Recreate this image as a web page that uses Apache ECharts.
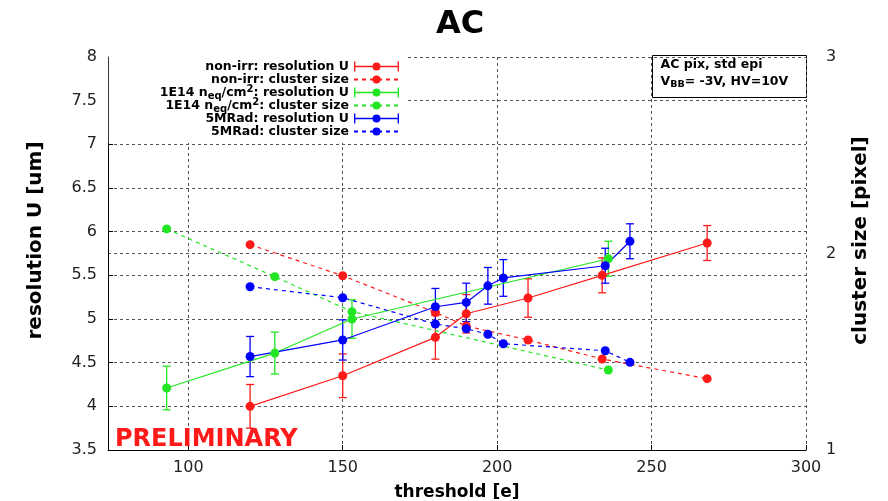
<!DOCTYPE html>
<html>
<head>
<meta charset="utf-8">
<script src="https://cdn.jsdelivr.net/npm/echarts@6/dist/echarts.min.js"></script>
<style>html,body{margin:0;padding:0;background:#fff}#c{width:888px;height:501px}</style>
</head>
<body>
<div id="c"></div>
<script>
/* AC pix: resolution U and cluster size vs threshold */
const xTicks = [100, 150, 200, 250, 300];

const redX = [120, 150, 180, 190, 210, 234, 268];
const redRes = [4.00, 4.35, 4.79, 5.06, 5.24, 5.50, 5.87];
const redErr = [0.25, 0.25, 0.25, 0.22, 0.22, 0.20, 0.20];
const redCl = [2.045, 1.887, 1.700, 1.631, 1.560, 1.463, 1.363];

const greenX = [93, 128, 153, 236];
const greenRes = [4.21, 4.61, 5.00, 5.69];
const greenErr = [0.25, 0.24, 0.22, 0.20];
const greenCl = [2.125, 1.882, 1.704, 1.407];

const blueX = [120, 150, 180, 190, 197, 202, 235, 243];
const blueRes = [4.57, 4.76, 5.14, 5.19, 5.38, 5.47, 5.61, 5.89];
const blueErr = [0.23, 0.23, 0.21, 0.22, 0.21, 0.21, 0.20, 0.20];
const blueCl = [1.831, 1.775, 1.641, 1.617, 1.589, 1.541, 1.505, 1.446];

const RED = '#ff1a1a', GREEN = '#22e622', BLUE = '#0000ff';
const FONT = 'DejaVu Sans';
const GRIDLINE = { lineStyle: { color: '#555', type: [3, 3], width: 1 } };
const ERR_ICON = 'path://M0,0h1.4v10h-1.4z M43.6,0h1.4v10h-1.4z M0,4.3h18.5v1.4h-18.5z M26.5,4.3h18.5v1.4h-18.5z M26.5,5a4,4 0 1,1 -8,0a4,4 0 1,1 8,0z';

const pairs = (xs, ys) => xs.map((x, i) => [x, ys[i]]);
const bars = (xs, ys, es) => xs.map((x, i) => [x, +(ys[i] - es[i]).toFixed(3), +(ys[i] + es[i]).toFixed(3)]);

function errBar(color) {
  return function (params, api) {
    const x = api.value(0);
    const lo = api.coord([x, api.value(1)]), hi = api.coord([x, api.value(2)]);
    const st = { stroke: color, lineWidth: 1.3 };
    return { type: 'group', children: [
      { type: 'line', shape: { x1: lo[0], y1: lo[1], x2: hi[0], y2: hi[1] }, style: st },
      { type: 'line', shape: { x1: lo[0] - 4, y1: lo[1], x2: lo[0] + 4, y2: lo[1] }, style: st },
      { type: 'line', shape: { x1: hi[0] - 4, y1: hi[1], x2: hi[0] + 4, y2: hi[1] }, style: st },
    ] };
  };
}

function resSeries(name, color, xs, ys) {
  return { name, type: 'line', data: pairs(xs, ys), symbol: 'circle', symbolSize: 9, z: 3,
    lineStyle: { color, width: 1.2 }, itemStyle: { color }, emphasis: { disabled: true } };
}
function clSeries(name, color, xs, ys) {
  return { name, type: 'line', yAxisIndex: 1, data: pairs(xs, ys), symbol: 'circle', symbolSize: 9, z: 3,
    lineStyle: { color, width: 1.2, type: [4, 4] }, itemStyle: { color }, emphasis: { disabled: true } };
}
function errSeries(color, xs, ys, es) {
  return { type: 'custom', data: bars(xs, ys, es), renderItem: errBar(color), encode: { x: 0, y: [1, 2] }, z: 2, silent: true };
}

const names = ['non-irr: resolution U', 'non-irr: cluster size', '1E14 neq/cm2: resolution U',
  '1E14 neq/cm2: cluster size', '5MRad: resolution U', '5MRad: cluster size'];

const chart = echarts.init(document.getElementById('c'), null, { renderer: 'canvas' });
chart.setOption({
  animation: false,
  title: { text: 'AC', left: 431, top: 4, textStyle: { fontFamily: FONT, fontWeight: 'bold', fontSize: 32, color: '#000' } },
  grid: { left: 108, right: 82, top: 57, bottom: 51, outerBoundsMode: 'none', containLabel: false },
  legend: {
    orient: 'vertical', align: 'right', right: 482, top: 55, padding: [3, 6, 3, 51],
    backgroundColor: '#fff', itemWidth: 45, itemHeight: 10, itemGap: -4, selectedMode: false,
    data: names.map((n, i) => i % 2 === 0 ? { name: n, icon: ERR_ICON } : { name: n }),
    formatter: n => n.replace('neq/cm2', 'n{sub|eq}/cm{sup|2}'),
    textStyle: {
      fontFamily: FONT, fontWeight: 'bold', fontSize: 12.5, color: '#000', lineHeight: 17,
      rich: {
        sub: { fontFamily: FONT, fontWeight: 'bold', fontSize: 10, color: '#000', verticalAlign: 'bottom' },
        sup: { fontFamily: FONT, fontWeight: 'bold', fontSize: 10, color: '#000', verticalAlign: 'top' },
      },
    },
  },
  xAxis: {
    type: 'value', min: 74, max: 300,
    name: 'threshold [e]', nameLocation: 'middle', nameGap: 34,
    nameTextStyle: { fontFamily: FONT, fontWeight: 'bold', fontSize: 17, color: '#000' },
    axisLine: { onZero: false, lineStyle: { color: '#000', width: 1 } },
    axisTick: { inside: true, length: 5, lineStyle: { color: '#000' }, customValues: xTicks },
    axisLabel: { customValues: xTicks, fontFamily: FONT, fontSize: 16, color: '#222', margin: 10 },
    splitLine: Object.assign({ show: true }, GRIDLINE),
  },
  yAxis: [
    {
      type: 'value', min: 3.5, max: 8, interval: 0.5,
      name: 'resolution U [um]', nameLocation: 'middle', nameGap: 62,
      nameTextStyle: { fontFamily: FONT, fontWeight: 'bold', fontSize: 20, color: '#000', padding: [0, 0, 0, 26] },
      axisLine: { show: true, onZero: false, lineStyle: { color: '#000', width: 1 } },
      axisTick: { show: true, inside: true, length: 5, lineStyle: { color: '#000' } },
      axisLabel: { fontFamily: FONT, fontSize: 16, color: '#222', margin: 11 },
      splitLine: Object.assign({ show: true }, GRIDLINE),
    },
    {
      type: 'value', min: 1, max: 3, interval: 1, position: 'right',
      name: 'cluster size [pixel]', nameLocation: 'middle', nameGap: 45,
      nameTextStyle: { fontFamily: FONT, fontWeight: 'bold', fontSize: 20, color: '#000', padding: [0, 0, 0, 26] },
      axisLine: { show: false, onZero: false },
      axisTick: { show: false },
      axisLabel: { fontFamily: FONT, fontSize: 16, color: '#222', margin: 20 },
      splitLine: Object.assign({ show: true }, GRIDLINE),
    },
  ],
  graphic: [
    { type: 'text', left: 115, top: 428, z: 10, style: { text: 'PRELIMINARY', fill: RED, font: 'bold 24px "DejaVu Sans"' } },
    { type: 'group', left: 652, top: 55, z: 10, children: [
      { type: 'rect', shape: { x: 0, y: 0, width: 154, height: 42 }, style: { fill: '#fff', stroke: '#000', lineWidth: 1 } },
      { type: 'text', x: 8, y: 3, style: { text: 'AC pix, std epi', fill: '#000', font: 'bold 12.5px "DejaVu Sans"' } },
      { type: 'text', x: 8, y: 19, style: { text: 'V{sub|BB}= -3V, HV=10V', fill: '#000', font: 'bold 12.5px "DejaVu Sans"',
        rich: { sub: { fontFamily: FONT, fontWeight: 'bold', fontSize: 9.5, verticalAlign: 'bottom', padding: [5, 0, 0, 0] } } } },
    ] },
  ],
  series: [
    resSeries(names[0], RED, redX, redRes),
    clSeries(names[1], RED, redX, redCl),
    resSeries(names[2], GREEN, greenX, greenRes),
    clSeries(names[3], GREEN, greenX, greenCl),
    resSeries(names[4], BLUE, blueX, blueRes),
    clSeries(names[5], BLUE, blueX, blueCl),
    errSeries(RED, redX, redRes, redErr),
    errSeries(GREEN, greenX, greenRes, greenErr),
    errSeries(BLUE, blueX, blueRes, blueErr),
  ],
});
</script>
</body>
</html>
